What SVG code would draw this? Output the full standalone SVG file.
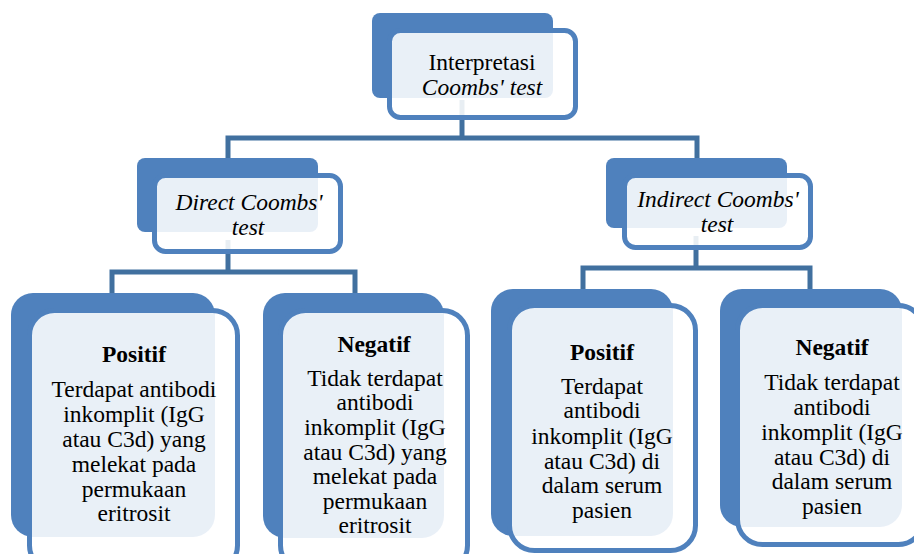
<svg xmlns="http://www.w3.org/2000/svg" width="914" height="554" viewBox="0 0 914 554">
<style>
.back{fill:#4F81BD}
.front{fill:#FFFFFF;fill-opacity:0.88;stroke:#4F81BD;stroke-width:5}
.conn{fill:none;stroke:#41709F;stroke-width:5;stroke-linejoin:miter}
text{font-family:"Liberation Serif","Times New Roman",serif;fill:#000;text-anchor:middle}
.t{font-size:23.5px}
.b{font-size:23.5px}
.h{font-size:23.5px;font-weight:bold}
.i{font-style:italic}
</style>
<rect width="914" height="554" fill="#FFFFFF"/>
<g id="connectors">
<path class="conn" d="M462,100 V138"/>
<path class="conn" d="M228,162 V138 H697 V162"/>
<path class="conn" d="M228,240 V272"/>
<path class="conn" d="M112,296 V272 H355 V296"/>
<path class="conn" d="M696,236 V268"/>
<path class="conn" d="M583,292 V268 H810 V292"/>
</g>
<g id="node-interpretasi">
<rect class="back" x="372" y="13" width="181" height="85" rx="8"/>
<rect class="front" x="389.5" y="30.5" width="186" height="87" rx="11"/>
<text class="t" x="482" y="70">Interpretasi</text>
<text class="t i" x="482" y="95">Coombs' test</text>
</g>
<g id="node-direct">
<rect class="back" x="137" y="158" width="181" height="74" rx="8"/>
<rect class="front" x="154.5" y="175.5" width="186" height="76" rx="11"/>
<text class="t i" x="249" y="210">Direct Coombs'</text>
<text class="t i" x="248" y="235">test</text>
</g>
<g id="node-indirect">
<rect class="back" x="606" y="158" width="181" height="70" rx="8"/>
<rect class="front" x="624.5" y="175.5" width="186" height="72" rx="11"/>
<text class="t i" x="718" y="207">Indirect Coombs'</text>
<text class="t i" x="717" y="232">test</text>
</g>
<g id="node-direct-positif">
<rect class="back" x="11" y="293" width="204" height="244" rx="22"/>
<rect class="front" x="29.5" y="310.5" width="208" height="260" rx="25"/>
<text class="h" x="134" y="362">Positif</text>
<text class="b" x="134" y="397">Terdapat antibodi</text>
<text class="b" x="134" y="422">inkomplit (IgG</text>
<text class="b" x="134" y="447">atau C3d) yang</text>
<text class="b" x="134" y="472">melekat pada</text>
<text class="b" x="134" y="497">permukaan</text>
<text class="b" x="134" y="521">eritrosit</text>
</g>
<g id="node-direct-negatif">
<rect class="back" x="263" y="293" width="181" height="245" rx="22"/>
<rect class="front" x="280.5" y="310.5" width="187" height="260" rx="25"/>
<text class="h" x="374" y="352">Negatif</text>
<text class="b" x="375" y="386">Tidak terdapat</text>
<text class="b" x="375" y="410">antibodi</text>
<text class="b" x="375" y="435">inkomplit (IgG</text>
<text class="b" x="375" y="460">atau C3d) yang</text>
<text class="b" x="375" y="484">melekat pada</text>
<text class="b" x="375" y="509">permukaan</text>
<text class="b" x="375" y="533">eritrosit</text>
</g>
<g id="node-indirect-positif">
<rect class="back" x="491" y="289" width="182" height="247" rx="22"/>
<rect class="front" x="509.5" y="305.5" width="186" height="245" rx="25"/>
<text class="h" x="602" y="360">Positif</text>
<text class="b" x="602" y="394">Terdapat</text>
<text class="b" x="602" y="418">antibodi</text>
<text class="b" x="602" y="444">inkomplit (IgG</text>
<text class="b" x="602" y="469">atau C3d) di</text>
<text class="b" x="602" y="493">dalam serum</text>
<text class="b" x="602" y="518">pasien</text>
</g>
<g id="node-indirect-negatif">
<rect class="back" x="720" y="289" width="182" height="238" rx="22"/>
<rect class="front" x="737.5" y="305.5" width="186" height="239" rx="25"/>
<text class="h" x="832" y="355">Negatif</text>
<text class="b" x="832" y="390">Tidak terdapat</text>
<text class="b" x="832" y="415">antibodi</text>
<text class="b" x="832" y="440">inkomplit (IgG</text>
<text class="b" x="832" y="465">atau C3d) di</text>
<text class="b" x="832" y="489">dalam serum</text>
<text class="b" x="832" y="514">pasien</text>
</g>
</svg>
